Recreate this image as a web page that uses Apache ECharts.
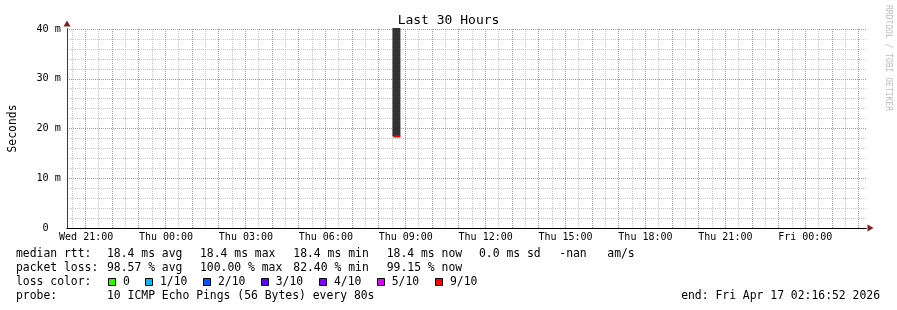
<!DOCTYPE html>
<html>
<head>
<meta charset="utf-8">
<script src="https://cdn.jsdelivr.net/npm/echarts@6/dist/echarts.min.js"></script>
<style>html,body{margin:0;padding:0;background:#fff;}#c{width:897px;height:310px;}</style>
</head>
<body>
<div id="c"></div>
<script>
// ---- data ----
const titleText = 'Last 30 Hours';
const yName = 'Seconds';
// time axis in hours since Wed 00:00 (end: Fri Apr 17 02:16:52 2026, 30 h span)
const timeMin = 20 + 16 / 60 + 52 / 3600;
const timeMax = timeMin + 30;
const xLabelHours = [21, 24, 27, 30, 33, 36, 39, 42, 45, 48];
const xLabels = ['Wed 21:00', 'Thu 00:00', 'Thu 03:00', 'Thu 06:00', 'Thu 09:00', 'Thu 12:00', 'Thu 15:00', 'Thu 18:00', 'Thu 21:00', 'Fri 00:00'];
const majorGridStart = 21, majorGridStep = 1;     // hours (every full hour)
const minorGridStart = 20.5, minorGridStep = 1;   // hours (every half hour)
const yTicks = [0, 10, 20, 30, 40];      // milliseconds
const yTickLabels = ['0  ', '10 m', '20 m', '30 m', '40 m'];
// smoke: [start hour, end hour, low ms, high ms]
const smokeData = [[32.5, 32.8, 18.4, 40.2]];
// median rtt: [start hour, end hour, median ms, loss index]
const medianData = [[32.5, 32.8, 18.4, 6]];
// legend / stats
const rowLabels = ['median rtt:', 'packet loss:', 'loss color:', 'probe:'];
const rttStats = ['18.4 ms avg', '18.4 ms max', '18.4 ms min', '18.4 ms now', '0.0 ms sd', '-nan', 'am/s'];
const lossStats = ['98.57 % avg', '100.00 % max', '82.40 % min', '99.15 % now'];
const lossNames = ['0', '1/10', '2/10', '3/10', '4/10', '5/10', '9/10'];
const lossColors = ['#26ff00', '#00b8ff', '#0059ff', '#5e00ff', '#7e00ff', '#dd00ff', '#ff0000'];
const probeText = '10 ICMP Echo Pings (56 Bytes) every 80s';
const endText = 'end: Fri Apr 17 02:16:52 2026';
const watermark = 'RRDTOOL / TOBI OETIKER';

// ---- styles / layout ----
const MONO = '"DejaVu Sans Mono", monospace';
const MAJOR = '#f07a7a';
const MINOR = '#c8c8c8';
const ARROW = '#7f1f1f';
const FS = 11.4;
const G = {left: 66, right: 31, top: 29, bottom: 82};
const plotW = 897 - G.left - G.right;
const pxPerHour = plotW / (timeMax - timeMin);

const chart = echarts.init(document.getElementById('c'), null, {renderer: 'canvas'});

const graphics = [];
const rowY = [254, 268, 282, 296];
rowLabels.forEach((t, i) => graphics.push({type: 'text', x: 16, y: rowY[i], style: {text: t, font: FS + 'px ' + MONO, fill: '#000', verticalAlign: 'middle'}}));
const rttX = [107, 200, 293.3, 386.7, 479, 559.3, 607.3];
rttStats.forEach((t, i) => graphics.push({type: 'text', x: rttX[i], y: rowY[0], style: {text: t, font: FS + 'px ' + MONO, fill: '#000', verticalAlign: 'middle'}}));
const lossX = [107, 200, 293.3, 386.7];
lossStats.forEach((t, i) => graphics.push({type: 'text', x: lossX[i], y: rowY[1], style: {text: t, font: FS + 'px ' + MONO, fill: '#000', verticalAlign: 'middle'}}));
const boxX = [109, 146, 204, 261.7, 320, 377.7, 436];
lossNames.forEach((t, i) => {
  graphics.push({type: 'rect', shape: {x: Math.round(boxX[i]) - 0.5, y: 278.5, width: 7, height: 7}, style: {fill: lossColors[i], stroke: '#000', lineWidth: 1}});
  graphics.push({type: 'text', x: boxX[i] + 14, y: rowY[2], style: {text: t, font: FS + 'px ' + MONO, fill: '#000', verticalAlign: 'middle'}});
});
graphics.push({type: 'text', x: 107, y: rowY[3], style: {text: probeText, font: FS + 'px ' + MONO, fill: '#000', verticalAlign: 'middle'}});
graphics.push({type: 'text', x: 880, y: rowY[3], style: {text: endText, font: FS + 'px ' + MONO, fill: '#000', verticalAlign: 'middle', align: 'right'}});
graphics.push({type: 'text', x: 888, y: 5, rotation: -Math.PI / 2, style: {text: watermark, font: '8px ' + MONO, fill: '#bdbdbd', verticalAlign: 'middle', align: 'left'}});

function gridAxis(start, step, color, gridIndex, z) {
  return {
    type: 'value', gridIndex: gridIndex, min: start, max: timeMax, interval: step, z: z,
    axisLine: {show: false}, axisTick: {show: false}, axisLabel: {show: false},
    splitLine: {show: true, showMinLine: true, showMaxLine: false, lineStyle: {color: color, type: [1, 1], width: 1}}
  };
}
function hiddenY(gridIndex) {
  return {type: 'value', gridIndex: gridIndex, min: 0, max: 40, show: false, splitLine: {show: false}};
}

const option = {
  backgroundColor: '#fff',
  animation: false,
  title: {text: titleText, left: 'center', top: 9, textStyle: {fontFamily: MONO, fontSize: 13, fontWeight: 'normal', color: '#000'}},
  grid: [
    {left: G.left, right: G.right, top: G.top, bottom: G.bottom},
    {left: G.left + (minorGridStart - timeMin) * pxPerHour, right: G.right, top: G.top, bottom: G.bottom},
    {left: G.left + (majorGridStart - timeMin) * pxPerHour, right: G.right, top: G.top, bottom: G.bottom}
  ],
  xAxis: [{
    // main time axis with labels
    type: 'value', gridIndex: 0, min: timeMin, max: timeMax, z: 3, position: 'bottom',
    axisLine: {show: true, onZero: false, lineStyle: {color: '#000', width: 1}},
    axisTick: {show: false},
    splitLine: {show: false},
    axisLabel: {
      customValues: xLabelHours, margin: 4,
      fontFamily: MONO, fontSize: 10, color: '#000',
      formatter: v => xLabels[xLabelHours.indexOf(Math.round(v))] || ''
    }
  }, {
    // arrow layer
    type: 'value', gridIndex: 0, min: timeMin, max: timeMax, z: 2, position: 'bottom',
    axisLine: {show: true, onZero: false, symbol: ['none', 'triangle'], symbolSize: [7, 6], symbolOffset: [0, 4.5], lineStyle: {color: ARROW, width: 1}},
    axisTick: {show: false}, splitLine: {show: false}, axisLabel: {show: false}
  },
    gridAxis(minorGridStart, minorGridStep, MINOR, 1, 0),
    gridAxis(majorGridStart, majorGridStep, MAJOR, 2, 1)
  ],
  yAxis: [{
    type: 'value', gridIndex: 0, min: 0, max: 40, interval: 10, z: 1,
    name: yName, nameLocation: 'middle', nameGap: 48, nameRotate: 90,
    nameTextStyle: {fontFamily: MONO, fontSize: 11.4, color: '#000'},
    axisLine: {show: true, lineStyle: {color: '#555', width: 1}},
    axisTick: {show: false},
    minorTick: {show: false, splitNumber: 5},
    minorSplitLine: {show: true, lineStyle: {color: MINOR, type: [1, 1], width: 1}},
    splitLine: {show: true, lineStyle: {color: MAJOR, type: [1, 1], width: 1}},
    axisLabel: {
      margin: 6, fontFamily: MONO, fontSize: 10.2, color: '#000',
      formatter: v => yTickLabels[yTicks.indexOf(Math.round(v))] || ''
    }
  }, {
    type: 'value', gridIndex: 0, min: 0, max: 40, z: 2, position: 'left',
    axisLine: {show: true, symbol: ['none', 'triangle'], symbolSize: [7, 6], symbolOffset: [0, 5.5], lineStyle: {color: ARROW, width: 1}},
    axisTick: {show: false}, splitLine: {show: false}, axisLabel: {show: false}
  },
    hiddenY(1), hiddenY(2)
  ],
  series: [
    {
      type: 'custom', clip: false, z: 5, xAxisIndex: 0, yAxisIndex: 0,
      data: smokeData,
      renderItem: (params, api) => {
        const p0 = api.coord([api.value(0), api.value(3)]);
        const p1 = api.coord([api.value(1), api.value(2)]);
        return {type: 'rect', shape: {x: p0[0], y: p0[1], width: p1[0] - p0[0], height: p1[1] - p0[1]}, style: {fill: '#333333'}};
      }
    },
    {
      type: 'custom', clip: false, z: 6, xAxisIndex: 0, yAxisIndex: 0,
      data: medianData,
      renderItem: (params, api) => {
        const p0 = api.coord([api.value(0), api.value(2)]);
        const p1 = api.coord([api.value(1), api.value(2)]);
        return {type: 'rect', shape: {x: p0[0] + 1, y: p0[1] - 1, width: p1[0] - p0[0] - 1, height: 2}, style: {fill: lossColors[api.value(3)]}};
      }
    }
  ],
  graphic: graphics
};
chart.setOption(option);
</script>
</body>
</html>
